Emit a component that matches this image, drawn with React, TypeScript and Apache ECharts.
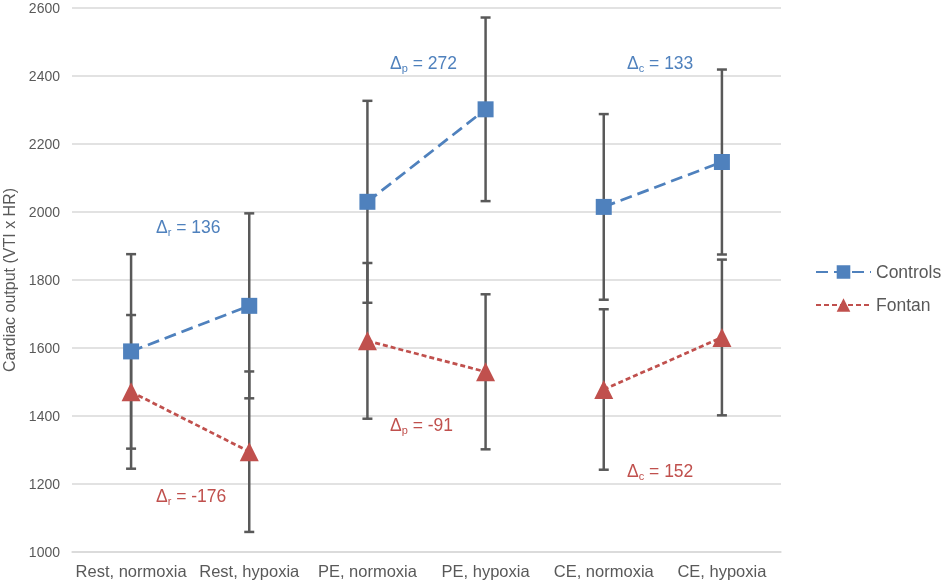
import React, { useEffect, useRef } from "react";
import * as echarts from "echarts";

const categories = [
  "Rest, normoxia",
  "Rest, hypoxia",
  "PE, normoxia",
  "PE, hypoxia",
  "CE, normoxia",
  "CE, hypoxia",
];
const controls = [1590, 1724, 2030, 2302, 2015, 2147];
const controlsErr = [286, 272, 297, 270, 273, 272];
const fontan = [1471, 1295, 1621, 1530, 1478, 1631];
const fontanErr = [226, 236, 229, 228, 236, 229];
const pairs = [
  [0, 1],
  [2, 3],
  [4, 5],
];
const yTicks = { min: 1000, max: 2600, interval: 200 };

const BLUE = "#4F81BD";
const RED = "#C0504D";
const GREY_TEXT = "#595959";
const FONT = "'Liberation Sans', Arial, sans-serif";

const annotations = [
  { sub: "r", text: " = 136", color: BLUE, x: 156, y: 227 },
  { sub: "r", text: " = -176", color: RED, x: 156, y: 496 },
  { sub: "p", text: " = 272", color: BLUE, x: 390, y: 63 },
  { sub: "p", text: " = -91", color: RED, x: 390, y: 425 },
  { sub: "c", text: " = 133", color: BLUE, x: 627, y: 63 },
  { sub: "c", text: " = 152", color: RED, x: 627, y: 471 },
];

function App() {
  const ref = useRef<HTMLDivElement>(null);
  useEffect(() => {
    if (!ref.current) return;
    const chart = echarts.init(ref.current, undefined, { renderer: "svg" });

    const lineSeries = (name: string, values: number[], color: string, symbol: string, size: number, dash: number[]) =>
      pairs.map((p) => ({
        name,
        type: "line",
        z: 3,
        data: values.map((v, i) => (p.includes(i) ? v : "-")),
        symbol,
        symbolSize: size,
        showAllSymbol: true,
        connectNulls: false,
        itemStyle: { color },
        lineStyle: { color, width: 2.75, type: dash },
      }));

    const errSeries = (name: string, values: number[], errs: number[]) => ({
      name,
      type: "custom",
      z: 2,
      data: values.map((v, i) => [i, v - errs[i], v + errs[i]]),
      encode: { x: 0, y: [1, 2] },
      renderItem: (params: any, api: any) => {
        const x = api.value(0);
        const lo = api.coord([x, api.value(1)]);
        const hi = api.coord([x, api.value(2)]);
        const style = { stroke: "#595959", lineWidth: 2.5 };
        const hw = 5;
        return {
          type: "group",
          children: [
            { type: "line", shape: { x1: lo[0], y1: lo[1], x2: hi[0], y2: hi[1] }, style },
            { type: "line", shape: { x1: lo[0] - hw, y1: lo[1], x2: lo[0] + hw, y2: lo[1] }, style },
            { type: "line", shape: { x1: hi[0] - hw, y1: hi[1], x2: hi[0] + hw, y2: hi[1] }, style },
          ],
        };
      },
    });

    const option: any = {
      animation: false,
      textStyle: { fontFamily: FONT },
      grid: { left: 72, right: 164, top: 8, bottom: 32, containLabel: false, outerBoundsMode: "none" },
      legend: {
        data: ["Controls", "Fontan"],
        orient: "vertical",
        left: 815,
        top: 263,
        padding: 0,
        itemWidth: 55,
        itemHeight: 17,
        itemGap: 15,
        textStyle: { color: GREY_TEXT, fontSize: 17.5, fontFamily: FONT },
      },
      xAxis: {
        type: "category",
        data: categories,
        axisLine: { lineStyle: { color: "#d9d9d9", width: 1.5 } },
        axisTick: { show: false },
        axisLabel: { color: GREY_TEXT, fontSize: 16.5, margin: 10, fontFamily: FONT, interval: 0 },
      },
      yAxis: {
        type: "value",
        min: yTicks.min,
        max: yTicks.max,
        interval: yTicks.interval,
        name: "Cardiac output (VTI x HR)",
        nameLocation: "middle",
        nameGap: 54,
        nameTextStyle: { color: GREY_TEXT, fontSize: 16, fontFamily: FONT },
        axisLine: { show: false },
        axisTick: { show: false },
        axisLabel: {
          color: GREY_TEXT,
          fontSize: 14,
          margin: 12,
          fontFamily: FONT,
          formatter: (v: number) => String(v),
        },
        splitLine: { lineStyle: { color: "#d9d9d9", width: 1.5 } },
      },
      series: [
        errSeries("errControls", controls, controlsErr),
        errSeries("errFontan", fontan, fontanErr),
        ...lineSeries("Controls", controls, BLUE, "rect", 16, [12, 6]),
        ...lineSeries("Fontan", fontan, RED, "triangle", 19, [5, 3]),
      ],
      graphic: annotations.map((a) => ({
        type: "text",
        z: 10,
        style: {
          x: a.x,
          y: a.y,
          verticalAlign: "middle",
          align: "left",
          fill: a.color,
          text: `{m|Δ}{s|${a.sub}}{m|${a.text}}`,
          rich: {
            m: { fontSize: 17.5, fill: a.color, fontFamily: FONT, lineHeight: 20 },
            s: { fontSize: 11, fill: a.color, fontFamily: FONT, lineHeight: 12, verticalAlign: "bottom" },
          },
        },
      })),
    };
    chart.setOption(option);
    return () => chart.dispose();
  }, []);
  return <div ref={ref} style={{ position: "fixed", left: 0, top: 0, width: 945, height: 584 }} />;
}

export default App;
